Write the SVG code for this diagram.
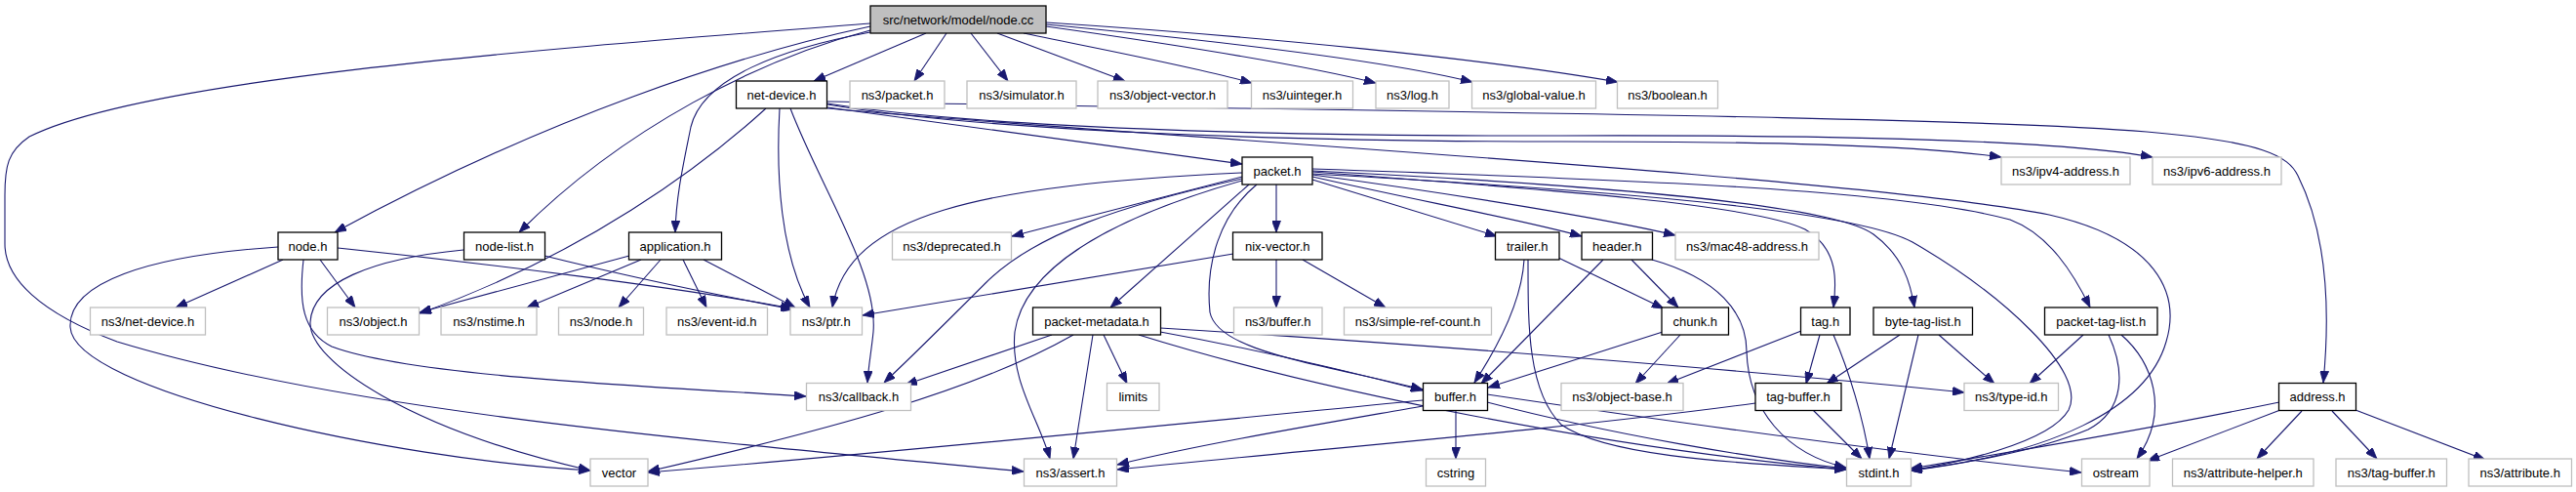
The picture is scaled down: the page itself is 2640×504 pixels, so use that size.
<svg xmlns="http://www.w3.org/2000/svg" width="2640" height="504" viewBox="0 0 2640 504">
<style>
rect{stroke-width:1.3}
.doc rect{fill:#fff;stroke:#000}
.ext rect{fill:#fff;stroke:#bfbfbf}
.root rect{fill:#bfbfbf;stroke:#000}
text{font-family:"Liberation Sans",Arial,sans-serif;font-size:13px;fill:#000;text-anchor:middle}
#edges path{fill:none;stroke:#191970;stroke-width:1.1;marker-end:url(#arr)}
</style>
<defs>
<marker id="arr" viewBox="0 0 12 9" refX="12" refY="4.5" markerWidth="12" markerHeight="9" markerUnits="userSpaceOnUse" orient="auto"><path d="M0,0 L12,4.5 L0,9 z" fill="#191970" stroke="#191970" stroke-width="0.8"/></marker>
</defs>
<rect width="2640" height="504" fill="#fff" style="stroke:none"/>
<g id="edges">
<path d="M949,34 L834,83"/>
<path d="M970,34 L937,83"/>
<path d="M995,34 L1033,83"/>
<path d="M1022,34 L1153,83"/>
<path d="M1049,34 C1150,55 1230,70 1283,85"/>
<path d="M1072,27 C1200,45 1330,65 1410,85"/>
<path d="M1072,25 C1250,42 1420,62 1509,84"/>
<path d="M1072,23 C1300,38 1520,60 1658,84"/>
<path d="M892,27 C760,55 560,120 343,238"/>
<path d="M892,31 C780,60 640,130 532,238"/>
<path d="M892,33 C800,50 720,80 708,130 C700,170 693,200 692,238"/>
<path d="M892,24 C560,50 150,80 30,140 C8,155 5,170 5,200 L5,250 C5,285 40,320 120,350 C350,420 700,450 1049,483"/>
<path d="M848,110 C1000,130 1150,152 1273,168"/>
<path d="M848,107 C1000,133 1300,145 1600,145 C1800,145 1960,148 2051,161"/>
<path d="M848,106 C1000,130 1300,140 1600,139 C1900,138 2120,145 2206,161"/>
<path d="M848,104 C1300,113 2000,118 2200,135 C2320,145 2345,160 2355,180 C2385,240 2388,320 2381,392"/>
<path d="M848,111 C1100,135 1900,180 2100,220 C2210,245 2235,300 2220,350 C2200,420 2100,465 1958,482"/>
<path d="M785,111 C720,170 600,260 430,321"/>
<path d="M799,111 C795,180 800,260 830,315"/>
<path d="M810,111 C840,190 900,280 895,340 C893,360 890,375 889,392"/>
<path d="M290,266 L180,315"/>
<path d="M328,266 L364,315"/>
<path d="M285,253 C150,262 70,290 72,335 C75,400 400,470 605,482"/>
<path d="M311,266 C306,310 310,340 340,355 C420,385 650,395 826,406"/>
<path d="M346,254 C500,270 700,295 812,316"/>
<path d="M475,256 C380,265 320,290 318,330 C316,370 420,440 605,482"/>
<path d="M558,262 C650,285 750,305 813,317"/>
<path d="M645,262 L430,320"/>
<path d="M657,266 L540,315"/>
<path d="M677,266 L634,315"/>
<path d="M700,266 L724,315"/>
<path d="M721,266 L815,315"/>
<path d="M1308,189 L1308,238"/>
<path d="M1345,184 L1534,242"/>
<path d="M1345,181 C1450,205 1560,225 1621,242"/>
<path d="M1345,179 C1500,200 1650,225 1717,241"/>
<path d="M1345,176 C1600,195 1800,210 1850,235 C1885,255 1882,290 1879,315"/>
<path d="M1345,175 C1650,190 1880,210 1920,240 C1950,262 1958,290 1962,315"/>
<path d="M1345,173 C1700,185 1950,195 2060,225 C2100,240 2125,280 2142,315"/>
<path d="M1345,178 C1650,195 1900,215 1960,248 C2050,300 2140,380 2120,420 C2100,455 2000,475 1958,482"/>
<path d="M1273,177 C1000,190 870,220 853,315"/>
<path d="M1273,181 L1037,242"/>
<path d="M1273,183 C1150,210 1060,240 1010,290 C980,320 940,360 906,392"/>
<path d="M1273,185 C1150,220 1050,270 1040,340 C1035,390 1065,430 1076,470"/>
<path d="M1280,189 L1138,315"/>
<path d="M1288,189 C1250,220 1235,270 1240,320 C1248,360 1350,372 1458,399"/>
<path d="M1264,260 L884,323"/>
<path d="M1308,266 L1308,315"/>
<path d="M1335,266 L1420,315"/>
<path d="M1597,264 L1705,316"/>
<path d="M1562,266 C1560,300 1545,340 1511,392"/>
<path d="M1566,266 C1566,330 1565,400 1600,435 C1650,470 1800,475 1892,481"/>
<path d="M1672,266 L1720,315"/>
<path d="M1643,266 L1518,393"/>
<path d="M1693,266 C1760,285 1790,320 1790,360 C1792,420 1830,465 1892,479"/>
<path d="M1704,340 L1525,397"/>
<path d="M1722,343 L1676,393"/>
<path d="M1846,339 L1708,393"/>
<path d="M1865,343 L1851,393"/>
<path d="M1879,343 C1895,380 1910,430 1916,470"/>
<path d="M1947,343 L1872,393"/>
<path d="M1966,343 L1936,470"/>
<path d="M1987,343 L2044,393"/>
<path d="M2135,343 L2080,393"/>
<path d="M2161,343 C2178,380 2178,420 2140,440 C2080,465 2000,476 1958,482"/>
<path d="M2174,343 C2205,370 2225,420 2190,470"/>
<path d="M1858,420 L1908,470"/>
<path d="M1799,413 C1600,440 1350,460 1145,481"/>
<path d="M1492,420 L1492,470"/>
<path d="M1524,412 C1650,445 1800,470 1892,480"/>
<path d="M1524,404 C1800,445 2000,470 2133,484"/>
<path d="M1458,410 C1200,435 900,465 664,484"/>
<path d="M1458,416 C1350,435 1230,455 1145,476"/>
<path d="M1078,343 L928,394"/>
<path d="M1100,343 C1000,400 850,440 664,483"/>
<path d="M1120,343 L1100,470"/>
<path d="M1131,343 L1155,393"/>
<path d="M1189,340 C1300,360 1400,385 1458,400"/>
<path d="M1189,336 C1500,355 1850,385 2013,402"/>
<path d="M1167,343 C1350,400 1650,460 1892,481"/>
<path d="M2336,412 C2200,440 2050,465 1958,480"/>
<path d="M2337,420 L2201,472"/>
<path d="M2359,421 L2313,470"/>
<path d="M2390,421 L2436,470"/>
<path d="M2414,420 L2547,471"/>
</g>
<g id="n_root" class="root"><rect x="892" y="6" width="180" height="28"/><text x="982" y="24.5">src/network/model/node.cc</text></g>
<g id="n_net_device_h" class="doc"><rect x="754.5" y="83" width="93" height="28"/><text x="801" y="101.5">net-device.h</text></g>
<g id="n_ns3_packet_h" class="ext"><rect x="871" y="83" width="97" height="28"/><text x="919.5" y="101.5">ns3/packet.h</text></g>
<g id="n_ns3_simulator_h" class="ext"><rect x="991" y="83" width="112" height="28"/><text x="1047" y="101.5">ns3/simulator.h</text></g>
<g id="n_ns3_object_vector_h" class="ext"><rect x="1125" y="83" width="133" height="28"/><text x="1191.5" y="101.5">ns3/object-vector.h</text></g>
<g id="n_ns3_uinteger_h" class="ext"><rect x="1282.5" y="83" width="104" height="28"/><text x="1334.5" y="101.5">ns3/uinteger.h</text></g>
<g id="n_ns3_log_h" class="ext"><rect x="1410" y="83" width="75" height="28"/><text x="1447.5" y="101.5">ns3/log.h</text></g>
<g id="n_ns3_global_value_h" class="ext"><rect x="1508.5" y="83" width="127" height="28"/><text x="1572" y="101.5">ns3/global-value.h</text></g>
<g id="n_ns3_boolean_h" class="ext"><rect x="1657.5" y="83" width="103" height="28"/><text x="1709" y="101.5">ns3/boolean.h</text></g>
<g id="n_packet_h" class="doc"><rect x="1273" y="161" width="72" height="28"/><text x="1309" y="179.5">packet.h</text></g>
<g id="n_ns3_ipv4_address_h" class="ext"><rect x="2051" y="161" width="132" height="28"/><text x="2117" y="179.5">ns3/ipv4-address.h</text></g>
<g id="n_ns3_ipv6_address_h" class="ext"><rect x="2206" y="161" width="132" height="28"/><text x="2272" y="179.5">ns3/ipv6-address.h</text></g>
<g id="n_node_h" class="doc"><rect x="285" y="238" width="61" height="28"/><text x="315.5" y="256.5">node.h</text></g>
<g id="n_node_list_h" class="doc"><rect x="475.5" y="238" width="83" height="28"/><text x="517" y="256.5">node-list.h</text></g>
<g id="n_application_h" class="doc"><rect x="644.5" y="238" width="95" height="28"/><text x="692" y="256.5">application.h</text></g>
<g id="n_ns3_deprecated_h" class="ext"><rect x="914.5" y="238" width="122" height="28"/><text x="975.5" y="256.5">ns3/deprecated.h</text></g>
<g id="n_nix_vector_h" class="doc"><rect x="1263.5" y="238" width="91.5" height="28"/><text x="1309.25" y="256.5">nix-vector.h</text></g>
<g id="n_trailer_h" class="doc"><rect x="1532.5" y="238" width="65.5" height="28"/><text x="1565.25" y="256.5">trailer.h</text></g>
<g id="n_header_h" class="doc"><rect x="1621" y="238" width="72.5" height="28"/><text x="1657.25" y="256.5">header.h</text></g>
<g id="n_ns3_mac48_address_h" class="ext"><rect x="1717" y="238" width="147" height="28"/><text x="1790.5" y="256.5">ns3/mac48-address.h</text></g>
<g id="n_ns3_net_device_h" class="ext"><rect x="92.5" y="315" width="118" height="28"/><text x="151.5" y="333.5">ns3/net-device.h</text></g>
<g id="n_ns3_object_h" class="ext"><rect x="335.5" y="315" width="94" height="28"/><text x="382.5" y="333.5">ns3/object.h</text></g>
<g id="n_ns3_nstime_h" class="ext"><rect x="452" y="315" width="98" height="28"/><text x="501" y="333.5">ns3/nstime.h</text></g>
<g id="n_ns3_node_h" class="ext"><rect x="572.5" y="315" width="87" height="28"/><text x="616" y="333.5">ns3/node.h</text></g>
<g id="n_ns3_event_id_h" class="ext"><rect x="683" y="315" width="103.5" height="28"/><text x="734.75" y="333.5">ns3/event-id.h</text></g>
<g id="n_ns3_ptr_h" class="ext"><rect x="810" y="315" width="73.5" height="28"/><text x="846.75" y="333.5">ns3/ptr.h</text></g>
<g id="n_packet_metadata_h" class="doc"><rect x="1058.5" y="315" width="131" height="28"/><text x="1124" y="333.5">packet-metadata.h</text></g>
<g id="n_ns3_buffer_h" class="ext"><rect x="1264.5" y="315" width="90.5" height="28"/><text x="1309.75" y="333.5">ns3/buffer.h</text></g>
<g id="n_ns3_simple_ref_count_h" class="ext"><rect x="1377.5" y="315" width="151" height="28"/><text x="1453" y="333.5">ns3/simple-ref-count.h</text></g>
<g id="n_chunk_h" class="doc"><rect x="1703" y="315" width="68.5" height="28"/><text x="1737.25" y="333.5">chunk.h</text></g>
<g id="n_tag_h" class="doc"><rect x="1845.5" y="315" width="50.5" height="28"/><text x="1870.75" y="333.5">tag.h</text></g>
<g id="n_byte_tag_list_h" class="doc"><rect x="1920" y="315" width="101.5" height="28"/><text x="1970.75" y="333.5">byte-tag-list.h</text></g>
<g id="n_packet_tag_list_h" class="doc"><rect x="2095.5" y="315" width="115.5" height="28"/><text x="2153.25" y="333.5">packet-tag-list.h</text></g>
<g id="n_ns3_callback_h" class="ext"><rect x="826.5" y="392.5" width="107" height="28"/><text x="880" y="411">ns3/callback.h</text></g>
<g id="n_limits" class="ext"><rect x="1134.5" y="392.5" width="53.5" height="28"/><text x="1161.25" y="411">limits</text></g>
<g id="n_buffer_h" class="doc"><rect x="1458.5" y="392.5" width="66" height="28"/><text x="1491.5" y="411">buffer.h</text></g>
<g id="n_ns3_object_base_h" class="ext"><rect x="1600" y="392.5" width="125" height="28"/><text x="1662.5" y="411">ns3/object-base.h</text></g>
<g id="n_tag_buffer_h" class="doc"><rect x="1799" y="392.5" width="88" height="28"/><text x="1843" y="411">tag-buffer.h</text></g>
<g id="n_ns3_type_id_h" class="ext"><rect x="2013" y="392.5" width="96.5" height="28"/><text x="2061.25" y="411">ns3/type-id.h</text></g>
<g id="n_address_h" class="doc"><rect x="2335.5" y="392.5" width="79" height="28"/><text x="2375" y="411">address.h</text></g>
<g id="n_vector" class="ext"><rect x="605" y="470" width="59" height="28"/><text x="634.5" y="488.5">vector</text></g>
<g id="n_ns3_assert_h" class="ext"><rect x="1049.5" y="470" width="95" height="28"/><text x="1097" y="488.5">ns3/assert.h</text></g>
<g id="n_cstring" class="ext"><rect x="1461.5" y="470" width="61" height="28"/><text x="1492" y="488.5">cstring</text></g>
<g id="n_stdint_h" class="ext"><rect x="1892.5" y="470" width="66" height="28"/><text x="1925.5" y="488.5">stdint.h</text></g>
<g id="n_ostream" class="ext"><rect x="2133.5" y="470" width="69.5" height="28"/><text x="2168.25" y="488.5">ostream</text></g>
<g id="n_ns3_attribute_helper_h" class="ext"><rect x="2226.5" y="470" width="144.5" height="28"/><text x="2298.75" y="488.5">ns3/attribute-helper.h</text></g>
<g id="n_ns3_tag_buffer_h" class="ext"><rect x="2394" y="470" width="113.5" height="28"/><text x="2450.75" y="488.5">ns3/tag-buffer.h</text></g>
<g id="n_ns3_attribute_h" class="ext"><rect x="2530" y="470" width="105.5" height="28"/><text x="2582.75" y="488.5">ns3/attribute.h</text></g>
</svg>
